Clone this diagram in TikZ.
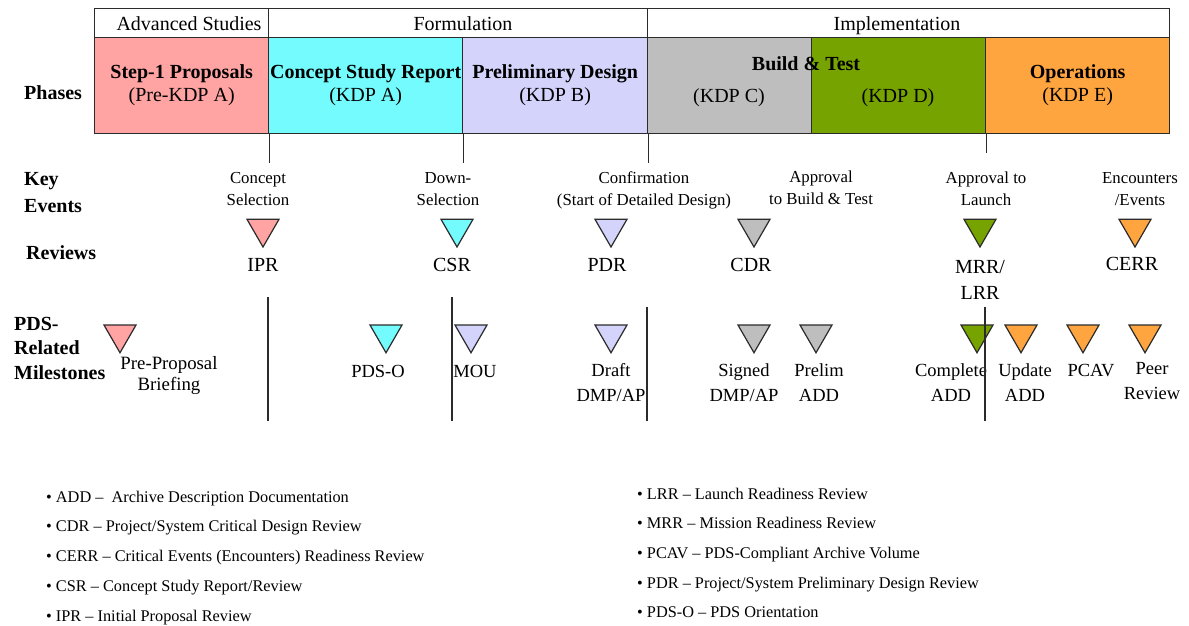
\documentclass[tikz,border=0pt]{standalone}
\usepackage{fontspec}
\setmainfont{Liberation Serif}
\usetikzlibrary{shapes.geometric}

\definecolor{pinkA}{HTML}{FFA3A3}
\definecolor{cyanA}{HTML}{73FBFD}
\definecolor{lavA}{HTML}{D3D3FB}
\definecolor{grayA}{HTML}{BEBEBE}
\definecolor{greenA}{HTML}{76A300}
\definecolor{orangeA}{HTML}{FFA540}
\definecolor{lineA}{HTML}{2B2B2B}

\tikzset{
  cell/.style={draw=lineA, line width=1.3pt, anchor=north west, inner sep=0pt, align=center,
    font=\fontsize{20}{23}\selectfont},
  tri/.style={draw=lineA, line width=1.2pt, regular polygon, regular polygon sides=3,
    shape border rotate=180, minimum size=37pt, inner sep=0pt},
  divider/.style={draw=lineA, line width=1.3pt},
  big/.style={inner sep=0pt, font=\fontsize{20}{23}\selectfont},
  rowlab/.style={inner sep=0pt, anchor=west, align=left, font=\fontsize{20}{25}\selectfont\bfseries},
  event/.style={inner sep=0pt, align=center, font=\fontsize{16.8}{22}\selectfont},
  review/.style={inner sep=0pt, align=center, font=\fontsize{20}{26}\selectfont},
  mile/.style={inner sep=0pt, align=center, font=\fontsize{18.5}{25}\selectfont},
  legend/.style={inner sep=0pt, anchor=base west, font=\fontsize{16.3}{20}\selectfont},
}

\begin{document}
\begin{tikzpicture}[x=1pt, y=-1pt]
  \useasboundingbox (0,0) rectangle (1189,625);

  % Cabecalho
  \node[cell, minimum width=174pt, minimum height=29pt] (hA) at (94,8) {};
  \node[cell, minimum width=379pt, minimum height=29pt] (hF) at (268,8) {};
  \node[cell, minimum width=522pt, minimum height=29pt] (hI) at (647,8) {};
  \node[big] (tA) at (189,24) {Advanced Studies};
  \node[big] (tF) at (463,24) {Formulation};
  \node[big] (tI) at (897,26) {Implementation};

  % Fases
  \node[cell, fill=pinkA, minimum width=174pt, minimum height=96pt] (pA) at (94,37)
    {{\bfseries Step-1 Proposals}\\(Pre-KDP A)};
  \node[cell, fill=cyanA, minimum width=194pt, minimum height=96pt] (pB) at (268,37)
    {{\bfseries Concept Study Report}\\(KDP A)};
  \node[cell, fill=lavA, minimum width=185pt, minimum height=96pt] (pC) at (462,37)
    {{\bfseries Preliminary Design}\\(KDP B)};
  \node[cell, fill=grayA, minimum width=164pt, minimum height=96pt] (pD) at (647,37) {};
  \node[cell, fill=greenA, minimum width=174pt, minimum height=96pt] (pE) at (811,37) {};
  \node[cell, fill=orangeA, minimum width=184pt, minimum height=96pt] (pF) at (985,37)
    {{\bfseries Operations}\\(KDP E)};
  \node[big, font=\fontsize{20}{23}\selectfont\bfseries] (bt) at (806,64) {Build \& Test};
  \node[big] (kdpC) at (729,98) {(KDP C)};
  \node[big] (kdpD) at (898,98) {(KDP D)};

  % Rotulos das linhas
  \node[rowlab] (lPh) at (24,92.5) {Phases};
  \node[rowlab, font=\fontsize{20}{27}\selectfont\bfseries] (lKe) at (24,192.5) {Key\\Events};
  \node[rowlab] (lRe) at (26,253) {Reviews};
  \node[rowlab, font=\fontsize{20}{24.5}\selectfont\bfseries] (lMi) at (14,348) {PDS-\\Related\\Milestones};

  % Eventos
  \node[event] (eCs) at (258,189) {Concept\\Selection};
  \node[event] (eDs) at (448,189) {Down-\\Selection};
  \node[event] (eCf) at (644,190) {Confirmation\\(Start of Detailed Design)};
  \node[event] (eAb) at (821,187.5) {Approval\\to Build \& Test};
  \node[event] (eAl) at (986,189) {Approval to\\Launch};
  \node[event] (eEn) at (1140,189) {Encounters\\/Events};

  % Revisoes
  \foreach \x/\name/\col in {263/ipr/pinkA, 457/csr/cyanA, 611/pdr/lavA, 754/cdr/grayA, 980/mrr/greenA, 1135/cerr/orangeA} {
    \node[tri, fill=\col] (r\name) at (\x,228.5) {};
  }
  \node[review] (tIpr) at (263,265) {IPR};
  \node[review] (tCsr) at (452,265) {CSR};
  \node[review] (tPdr) at (607,265) {PDR};
  \node[review] (tCdr) at (751,265) {CDR};
  \node[review] (tMrr) at (980,279.5) {MRR/\\LRR};
  \node[review] (tCerr) at (1132,263.5) {CERR};

  % Marcos do PDS
  \foreach \x/\name/\col in {120/pre/pinkA, 386/pdso/cyanA, 471/mou/lavA, 611/draft/lavA, 754/signed/grayA, 816/prelim/grayA, 977/complete/greenA, 1021/update/orangeA, 1083/pcav/orangeA, 1145/peer/orangeA} {
    \node[tri, fill=\col] (m\name) at (\x,334.25) {};
  }
  \node[mile, font=\fontsize{18.8}{21}\selectfont] (tPre) at (169,375) {Pre-Proposal\\Briefing};
  \node[mile] (tPdso) at (378,371) {PDS-O};
  \node[mile] (tMou) at (475,371) {MOU};
  \node[mile] (tDraft) at (611,383) {Draft\\DMP/AP};
  \node[mile] (tSigned) at (744,383) {Signed\\DMP/AP};
  \node[mile] (tPrelim) at (819,382.5) {Prelim\\ADD};
  \node[mile] (tComplete) at (951,382.5) {Complete\\ADD};
  \node[mile] (tUpdate) at (1025,382.5) {Update\\ADD};
  \node[mile] (tPcav) at (1091,371) {PCAV};
  \node[mile] (tPeer) at (1152,381) {Peer\\Review};

  % Divisorias
  \draw[divider] (pA.south east) -- ++(0,29);
  \draw[divider] (pB.south east) -- ++(0,29);
  \draw[divider] (pC.south east) -- ++(0,29);
  \draw[divider] (pE.south east) -- ++(0,19);
  \draw[divider] (268,297) -- (268,421);
  \draw[divider] (452,297) -- (452,421);
  \draw[divider] (647,307) -- (647,421);
  \draw[divider] (985,307) -- (985,421);

  % Legenda
  \foreach \txt [count=\i] in {ADD –~ Archive Description Documentation,
      CDR – Project/System Critical Design Review,
      CERR – Critical Events (Encounters) Readiness Review,
      CSR – Concept Study Report/Review,
      IPR – Initial Proposal Review} {
    \node[legend] (la\i) at (46,{472.2+29.8*\i}) {• \txt};
  }
  \foreach \txt [count=\i] in {LRR – Launch Readiness Review,
      MRR – Mission Readiness Review,
      PCAV – PDS-Compliant Archive Volume,
      PDR – Project/System Preliminary Design Review,
      PDS-O – PDS Orientation} {
    \node[legend] (lb\i) at (637,{469.3+29.7*\i}) {• \txt};
  }
\end{tikzpicture}
\end{document}
